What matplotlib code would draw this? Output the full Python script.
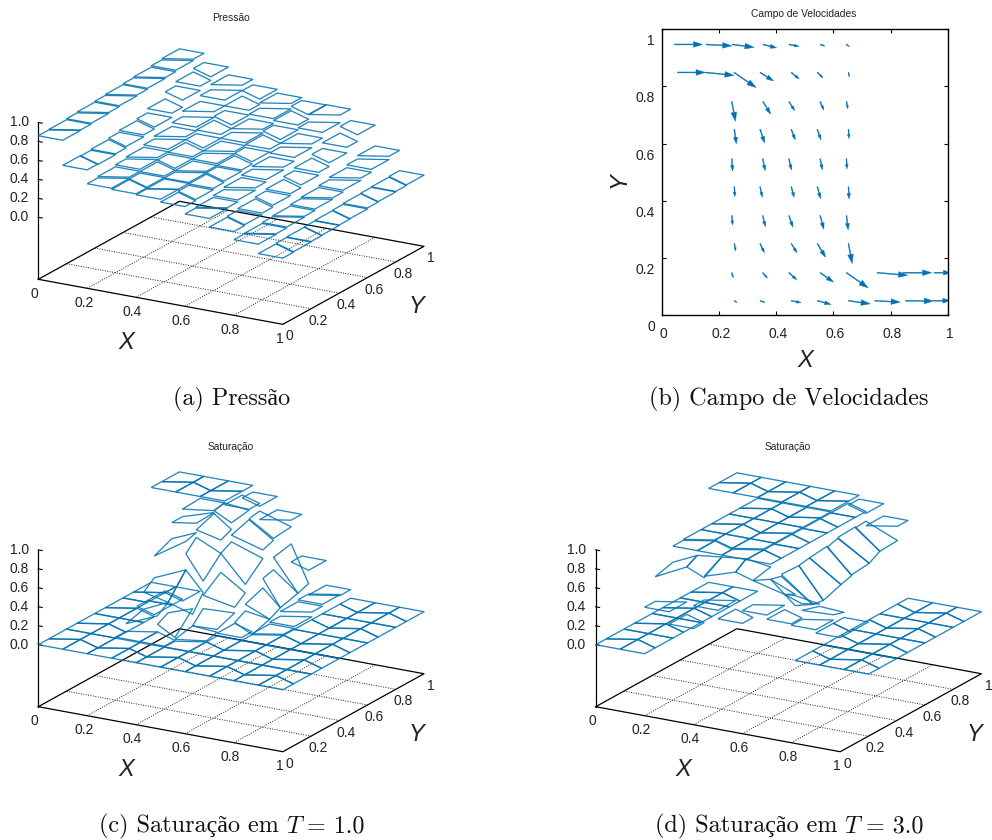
import numpy as np
import matplotlib
matplotlib.use('Agg')
import matplotlib.pyplot as plt
from matplotlib.transforms import ScaledTranslation
from mpl_toolkits.mplot3d import proj3d
from mpl_toolkits.mplot3d.art3d import Line3DCollection

# ---------- data ----------
x_nodes = [0, .1, .2, .3, .4, .5, .6, .7, .8, .9, 1]
y_nodes_even = [0, .075, .2, .275, .4, .475, .6, .675, .8, .875, 1]
y_nodes_odd = [0, .125, .2, .325, .4, .525, .6, .725, .8, .925, 1]
ticks = [0, .2, .4, .6, .8, 1]
tick_text = ['0', '0.2', '0.4', '0.6', '0.8', '1']
z_ticks = [0, .2, .4, .6, .8, 1.0]
z_text = ['0.0', '0.2', '0.4', '0.6', '0.8', '1.0']

pressure = [
    [.86, .865, .875, .885, .895, .905, .915, .925, .94, .954],
    [.595, .59, .60, .615, .635, .655, .70, .775, .82, .857],
    [.449, .463, .484, .505, .53, .56, .60, .66, .72, .775],
    [.437, .445, .46, .48, .50, .53, .57, .61, .66, .717],
    [.428, .43, .44, .455, .475, .50, .53, .57, .62, .677],
    [.398, .41, .425, .44, .455, .48, .51, .55, .60, .647],
    [.32, .33, .35, .375, .40, .43, .47, .51, .57, .65],
    [.23, .24, .26, .28, .30, .33, .36, .40, .46, .53],
    [.144, .15, .16, .17, .185, .20, .22, .245, .275, .31],
    [.044, .05, .055, .06, .065, .07, .08, .085, .09, .097],
]
sat1 = [
    [0, 0, 0, 0, 0, 0, 0, 0, 1, 1],
    [0, 0, 0, 0, 0, .02, .02, 0, 1, 1],
    [0, 0, .01, 0, 0, 0, 0, 0, 1, 1],
    [0, 0, .01, 0, 0, 0, 0, 0, .96, .93],
    [0, 0, 0, 0, 0, 0, 0, 0, 0, .79],
    [0, 0, 0, 0, .03, 0, 0, 0, 0, .35],
    [0, 0, 0, 0, 0, .01, .03, .08, .10, .09],
    [0, 0, 0, 0, 0, 0, 0, 0, 0, 0],
    [0, 0, 0, 0, 0, 0, 0, 0, 0, 0],
    [0, 0, 0, 0, 0, 0, 0, 0, 0, 0],
]
sat1_tilted = {
    (3, 5): (.67, .47, .66, .78), (4, 6): (.66, .38, .55, .72),
    (3, 6): (.86, .80, .85, .93), (4, 7): (.79, .64, .68, .85),
    (5, 8): (.50, .17, .21, .54), (5, 7): (.34, .12, .17, .37),
    (4, 5): (.32, .20, .29, .46), (3, 4): (.26, .18, .35, .50),
    (5, 6): (.17, .06, .12, .24), (4, 4): (.06, .07, .14, .18),
    (5, 5): (.04, 0, .06, .10), (2, 5): (.64, .80, .83, .72),
    (2, 6): (.89, .93, .94, .89), (2, 7): (.97, .96, .98, .98),
    (3, 7): (.96, .92, .95, .98), (4, 8): (.86, .70, .72, .88),
    (3, 3): (.09, .04, .24, .15), (4, 3): (.02, .01, .04, .06),
    (2, 3): (.09, .18, .26, .14), (2, 4): (.32, .26, .50, .41),
}
sat3 = [
    [0, 0, 0, 0, 0, 0, 0, 0, .99, .99],
    [0, 0, 0, 0, 0, 0, 0, 0, .99, .99],
    [.49, 0, .97, .98, .98, .98, .98, .98, .99, .99],
    [.36, 0, .97, .98, .98, .98, .98, .98, .99, .99],
    [.60, 0, .97, .98, .98, .98, .98, .98, .99, .99],
    [.51, 0, .97, .97, .97, .97, .97, .97, .97, .95],
    [.645, 0, 0, 0, 0, 0, 0, 0, 0, .82],
    [.60, 0, 0, 0, 0, 0, 0, 0, 0, 0],
    [.585, 0, 0, 0, 0, 0, 0, 0, 0, 0],
    [.55, .55, 0, 0, 0, 0, 0, 0, 0, 0],
]
sat3_tilted = {
    (2, 1): (.75, .86, .92, .80), (3, 1): (.86, .835, .95, .92),
    (4, 1): (.85, .90, .98, .95), (5, 1): (.90, .90, .94, .98),
    (6, 1): (.90, .76, .70, .81), (6, 2): (.81, .58, .49, .78),
    (6, 3): (.80, .49, .47, .79), (6, 4): (.79, .47, .535, .81),
    (6, 5): (.81, .535, .567, .83), (6, 6): (.82, .575, .595, .85),
    (6, 7): (.86, .595, .66, .87), (6, 8): (.86, .66, .67, .867),
    (7, 1): (.76, .75, .645, .686), (8, 1): (.68, .64, .605, .62),
}

# velocity field
vel_x = [.045, .155, .246, .354, .445, .554, .645,
         .055, .152, .253, .344, .453, .544, .653,
         .245, .354, .445, .554, .646,
         .254, .344, .453, .544, .653,
         .245, .353, .445, .554, .646,
         .254, .344, .453, .544, .653,
         .245, .353, .445, .554, .646,
         .254, .344, .453, .544, .653,
         .245, .353, .445, .554, .646, .753, .843, .952,
         .254, .344, .453, .544, .653, .745, .852, .950]
vel_y = [.947] * 7 + [.849] * 7 + [.747] * 5 + [.650] * 5 + [.547] * 5 + [.449] * 5 + \
        [.348] * 5 + [.250] * 5 + [.148] * 8 + [.050] * 8
vel_u = [.098, .090, .077, .048, .035, .017, .012,
         .097, .101, .077, .047, .028, .020, .003,
         .013, .027, .020, .013, .005,
         .007, .016, .014, .013, .002,
         .003, .009, .009, .008, .002,
         .002, .008, .010, .012, .002,
         .003, .010, .014, .013, .006,
         .005, .015, .020, .029, .013,
         .005, .017, .027, .047, .076, .107, .101, .06,
         .010, .017, .034, .048, .076, .089, .098, .06]
vel_v = [0, -.005, -.010, -.012, -.007, -.006, -.007,
         0, -.010, -.053, -.030, -.023, -.019, -.016,
         -.069, -.044, -.032, -.030, -.025,
         -.051, -.048, -.037, -.037, -.033,
         -.043, -.042, -.040, -.039, -.036,
         -.035, -.037, -.037, -.042, -.043,
         -.033, -.039, -.041, -.048, -.050,
         -.026, -.032, -.032, -.048, -.070,
         -.018, -.019, -.025, -.033, -.053, -.009, 0, 0,
         -.007, -.006, -.007, -.013, -.011, -.005, -.001, 0]

titles = ['Pressão', 'Campo de Velocidades', 'Saturação', 'Saturação']
captions = [('(a) Pressão',), ('(b) Campo de Velocidades',),
            ('(c) Saturação em', 'T', '= 1.0'), ('(d) Saturação em', 'T', '= 3.0')]

# ---------- style ----------
W, H = 992, 840
BLUE = '#0072b2'
TXT = '#222222'
plt.rcParams['font.family'] = 'Liberation Sans'
plt.rcParams['axes.formatter.use_mathtext'] = True
fig = plt.figure(figsize=(W / 100, H / 100), dpi=100)
Z_BASE = -.654


def to_pixels(ax, x, y, z):
    xs, ys, _ = proj3d.proj_transform(x, y, z, ax.get_proj())
    return ax.transData.transform((xs, ys))


def surface(left, y_base, cells, tilted):
    """left, y_base: pixel position of the corner x=0, y=0 of the floor."""
    ax = fig.add_axes([0, 0, 500 / W, 500 / H], projection='3d', proj_type='ortho')
    ax.set_axis_off()
    ax.view_init(elev=18.6, azim=-60)
    ax.set_box_aspect((1, 1, .586))
    segs = []
    for i in range(10):
        yl = y_nodes_even if i % 2 == 0 else y_nodes_odd
        yr = y_nodes_odd if i % 2 == 0 else y_nodes_even
        for j in range(10):
            zs = tilted.get((i, j), (cells[i][j],) * 4)
            pts = [(x_nodes[i], yl[j], zs[0]), (x_nodes[i + 1], yr[j], zs[1]),
                   (x_nodes[i + 1], yr[j + 1], zs[2]), (x_nodes[i], yl[j + 1], zs[3])]
            segs.append(pts + [pts[0]])
    ax.add_collection3d(Line3DCollection(segs, colors=BLUE, linewidths=.95, alpha=.85))

    # floor
    for t in ticks[1:-1]:
        ax.plot([t, t], [0, 1], [Z_BASE] * 2, color='#222222', lw=.7, ls=(0, (1, 1.5)))
        ax.plot([0, 1], [t, t], [Z_BASE] * 2, color='#222222', lw=.7, ls=(0, (1, 1.5)))
    ax.plot([0, 1, 1, 0, 0], [0, 0, 1, 1, 0], [Z_BASE] * 5, color='k', lw=.9)
    ax.plot([0, 0], [0, 0], [Z_BASE, 1], color='k', lw=.9)
    for z in z_ticks:
        ax.plot([0, .016], [0, 0], [z, z], color='k', lw=.8)
    ax.set_xlim(0, 1)
    ax.set_ylim(0, 1)
    ax.set_zlim(Z_BASE, 1)

    # place the axes so that the floor lands where the reference has it
    size = 500.0
    target_a = np.array([left, H - y_base])
    target_dx = 385.7
    px, py = 0.0, 0.0
    for _ in range(4):
        ax.set_position([px / W, py / H, size / W, size / H])
        ax.apply_aspect()
        a = to_pixels(ax, 0, 0, Z_BASE)
        b = to_pixels(ax, 1, 1, Z_BASE)
        scale = target_dx / (b[0] - a[0])
        size *= scale
        ax.set_position([px / W, py / H, size / W, size / H])
        ax.apply_aspect()
        a = to_pixels(ax, 0, 0, Z_BASE)
        px += target_a[0] - a[0]
        py += target_a[1] - a[1]
    ax.set_position([px / W, py / H, size / W, size / H])

    def label(x, y, z, text, dx, dy, **kw):
        xs, ys, _ = proj3d.proj_transform(x, y, z, ax.get_proj())
        kw.setdefault('ha', 'center')
        kw.setdefault('fontsize', 10)
        ax.annotate(text, (xs, ys), xytext=(dx, -dy), textcoords='offset pixels',
                    va='center', color=TXT, annotation_clip=False, **kw)

    for t, s in zip(ticks, tick_text):
        label(t, 0, Z_BASE, s, -3.5, 14.5)
        label(1, t, Z_BASE, s, 7, 12)
    for z, s in zip(z_ticks, z_text):
        label(0, 0, z, s, -9.5, 0, ha='right')
    label(.4, 0, Z_BASE, 'X', -10, 45, fontsize=17, style='italic')
    label(1, .7, Z_BASE, 'Y', 35, 37, fontsize=17, style='italic')
    return ax


surface(38.3, 279.3, pressure, {})
surface(38.3, 706.7, sat1, sat1_tilted)
surface(595.7, 706.7, sat3, sat3_tilted)

# ---------- velocity panel ----------
ax = fig.add_axes([661.7 / W, (H - 315) / H, 286 / W, 285.7 / H])
ax.set_xlim(0, 1)
ax.set_ylim(0, 1)
for x, y, u, v in zip(vel_x, vel_y, vel_u, vel_v):
    length = np.hypot(u, v)
    hl = min(.45 * length, .032)
    ax.arrow(x, y, u, v, length_includes_head=True, width=.0032, head_length=hl,
             head_width=.62 * hl, color=BLUE, linewidth=.3)
ax.set_xticks(ticks, tick_text)
ax.set_yticks(ticks, tick_text)
ax.tick_params(direction='in', top=True, right=True, length=3, width=.8, labelsize=10,
               labelcolor=TXT)
ax.tick_params(axis='x', pad=9)
ax.tick_params(axis='y', pad=5)
for s in ax.spines.values():
    s.set_linewidth(1.0)
for lab in ax.get_yticklabels():
    lab.set_transform(lab.get_transform() + ScaledTranslation(0, -10.5 / 100, fig.dpi_scale_trans))
for lab in ax.get_xticklabels():
    lab.set_transform(lab.get_transform() + ScaledTranslation(2 / 100, 0, fig.dpi_scale_trans))
fig.text(805.7 / W, 1 - 360.7 / H, 'X', fontsize=17, style='italic', ha='center', va='center', color=TXT)
fig.text(619 / W, 1 - 180 / H, 'Y', fontsize=17, style='italic', rotation=90, ha='center', va='center', color=TXT)

# ---------- titles and captions ----------
for s, (x, y) in zip(titles, [(231, 18.3), (804, 14.3), (231, 446.7), (788, 446.7)]):
    fig.text(x / W, 1 - y / H, s, fontsize=7.4, ha='center', va='center', color=TXT)

CAP_ROMAN = ['cmr10', 'Liberation Serif']
CAP_SIZE = 17.4
renderer = fig.canvas.get_renderer()
for parts, (cx, y) in zip(captions, [(232, 398), (789, 398), (232, 825.7), (789, 825.7)]):
    pieces = []
    for k, s in enumerate(parts):
        fam = ['cmmi10'] if s == 'T' else CAP_ROMAN
        pieces.append(fig.text(0, 1 - y / H, s, fontsize=CAP_SIZE, family=fam, ha='left',
                               va='baseline', color='#111111'))
    widths = [p.get_window_extent(renderer).width for p in pieces]
    gap = 7.0
    x = cx - (sum(widths) + gap * (len(pieces) - 1)) / 2
    for p, w in zip(pieces, widths):
        p.set_x(x / W)
        p.set_y(1 - (y + 7) / H)
        x += w + gap

fig.savefig('out.png', dpi=100)
